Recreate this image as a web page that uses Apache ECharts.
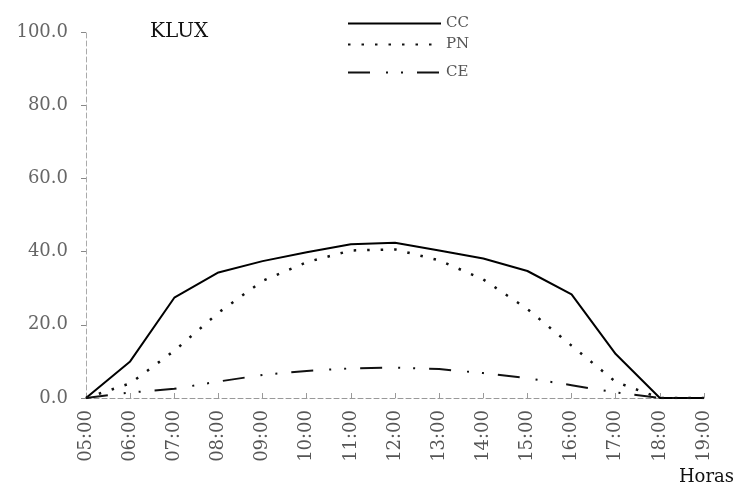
<!DOCTYPE html>
<html>
<head>
<meta charset="utf-8">
<script src="https://cdn.jsdelivr.net/npm/echarts@6/dist/echarts.min.js"></script>
<style>
html,body{margin:0;padding:0;background:#fff;}
#chart{width:737px;height:487px;}
</style>
</head>
<body>
<div id="chart"></div>
<script>
var hours = ['05:00','06:00','07:00','08:00','09:00','10:00','11:00','12:00','13:00','14:00','15:00','16:00','17:00','18:00','19:00'];
var ccValues = [0, 10.0, 27.4, 34.3, 37.4, 39.8, 42.0, 42.4, 40.3, 38.1, 34.7, 28.3, 12.0, 0, 0];
var pnValues = [0, 4.0, 12.9, 23.3, 32.0, 37.1, 40.3, 40.6, 37.6, 32.4, 24.3, 14.3, 4.4, 0, 0];
var ceValues = [0, 1.5, 2.5, 4.5, 6.3, 7.4, 8.1, 8.3, 7.9, 6.8, 5.4, 3.5, 1.5, 0, 0];
var seriesNames = ['CC', 'PN', 'CE'];

var chart = echarts.init(document.getElementById('chart'));
var serif = 'DejaVu Serif';
function legendFor(name, top) {
  return {
    orient: 'vertical', left: 347, top: top, padding: 0,
    itemWidth: 93, itemHeight: 12,
    data: [name],
    itemStyle: {color: 'rgba(0,0,0,0)', borderWidth: 0},
    textStyle: {fontFamily: serif, fontSize: 15, color: '#555'},
    inactiveColor: '#ccc'
  };
}
chart.setOption({
  backgroundColor: '#fff',
  animation: false,
  legend: [legendFor(seriesNames[0], 16), legendFor(seriesNames[1], 37), legendFor(seriesNames[2], 65)],
  grid: {left: 86, right: 32, top: 32, bottom: 89, containLabel: false},
  xAxis: {
    type: 'category',
    data: hours,
    boundaryGap: false,
    name: 'Horas',
    nameLocation: 'end',
    nameGap: 30,
    nameTextStyle: {fontFamily: serif, fontSize: 18, color: '#111', align: 'right', verticalAlign: 'top', padding: [70, 0, 0, 0]},
    axisLine: {lineStyle: {color: '#999', width: 1, type: [5, 3]}},
    axisTick: {inside: true, length: 5, alignWithLabel: true, lineStyle: {color: '#999'}},
    axisLabel: {rotate: 90, margin: 12, fontFamily: serif, fontSize: 18, color: '#555', interval: 0},
    splitLine: {show: false}
  },
  yAxis: {
    type: 'value',
    min: 0, max: 100, interval: 20,
    name: 'KLUX',
    nameLocation: 'end',
    nameGap: 0,
    nameTextStyle: {fontFamily: serif, fontSize: 20, color: '#111', align: 'left', verticalAlign: 'middle', padding: [0, 0, 0, 64]},
    axisLine: {show: true, lineStyle: {color: '#aaa', width: 1, type: [5, 3]}},
    axisTick: {show: true, length: 5, lineStyle: {color: '#888'}},
    axisLabel: {margin: 18, fontFamily: serif, fontSize: 18, color: '#666', formatter: function (v) { return v.toFixed(1); }},
    splitLine: {show: false}
  },
  series: [
    {name: seriesNames[0], type: 'line', data: ccValues, symbol: 'none', lineStyle: {color: '#000', width: 2, type: 'solid'}, itemStyle: {color: '#000'}},
    {name: seriesNames[1], type: 'line', data: pnValues, symbol: 'none', lineStyle: {color: '#111', width: 2.5, type: [2.5, 11]}, itemStyle: {color: '#111'}},
    {name: seriesNames[2], type: 'line', data: ceValues, symbol: 'none', lineStyle: {color: '#111', width: 2, type: [22, 16, 2, 13, 2, 14]}, itemStyle: {color: '#111'}}
  ]
});
</script>
</body>
</html>
